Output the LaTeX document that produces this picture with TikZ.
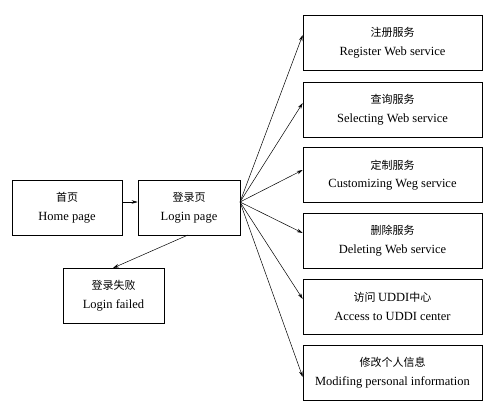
\documentclass[tikz,border=0pt]{standalone}
\usepackage{fontspec}
\setmainfont{Liberation Serif}
\newfontfamily\cjk{Noto Sans CJK SC}
\newcommand{\zh}[1]{{\cjk\fontsize{11}{18}\selectfont #1}}
\usetikzlibrary{arrows.meta}
\begin{document}
\begin{tikzpicture}[x=1pt,y=-1pt,
  box/.style={draw, line width=0.6pt, rectangle, minimum height=55pt, align=center, inner sep=0pt,
    font=\fontsize{12.5}{18.5}\selectfont},
  conn/.style={line width=0.5pt, -{Stealth[length=6pt,width=3.5pt]}}]
\useasboundingbox (0,0) rectangle (492,412);
\node[box, minimum width=110pt] (home) at (67,207.5) {\zh{首页}\\Home page};
\node[box, minimum width=102pt] (login) at (189,207.5) {\zh{登录页}\\Login page};
\node[box, minimum width=101pt] (fail) at (113.5,295.5) {\zh{登录失败}\\Login failed};
\node[box, minimum width=179pt] (s1) at (392.5,42.5) {\zh{注册服务}\\Register Web service};
\node[box, minimum width=179pt] (s2) at (392.5,109.5) {\zh{查询服务}\\Selecting Web service};
\node[box, minimum width=179pt] (s3) at (392.5,175) {\zh{定制服务}\\Customizing Weg service};
\node[box, minimum width=179pt] (s4) at (392.5,240.5) {\zh{删除服务}\\Deleting Web service};
\node[box, minimum width=179pt] (s5) at (392.5,306.5) {\zh{访问 }UDDI\zh{中心}\\Access to UDDI center};
\node[box, minimum width=179pt] (s6) at (392.5,372.5) {\zh{修改个人信息}\\Modifing personal information};
\coordinate (o) at (240,202);
\draw[conn] (home.east |- 0,202) -- (login.west |- 0,202);
\draw[conn] (188,235) -- (113,268);
\draw[conn] (o) -- (s1.west |- 0,35);
\draw[conn] (o) -- (s2.west |- 0,103);
\draw[conn] (o) -- (s3.west |- 0,170);
\draw[conn] (o) -- (s4.west |- 0,233);
\draw[conn] (o) -- (s5.west |- 0,299);
\draw[conn] (o) -- (s6.west |- 0,377);
\end{tikzpicture}
\end{document}
